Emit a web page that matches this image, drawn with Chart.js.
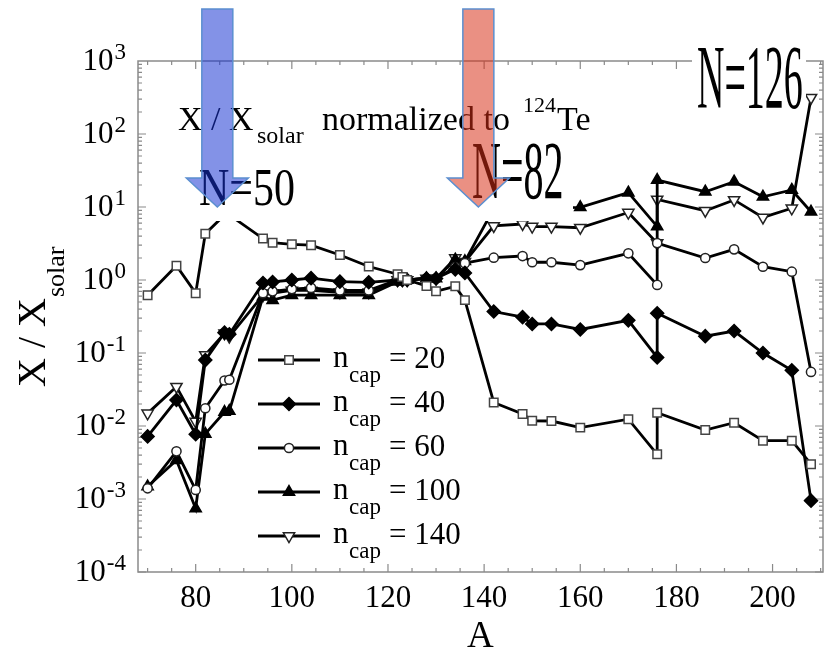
<!DOCTYPE html>
<html>
<head>
<meta charset="utf-8">
<script src="https://cdn.jsdelivr.net/npm/chart.js@4.4.1/dist/chart.umd.min.js"></script>
<style>
  html, body { margin: 0; padding: 0; background: #fff; }
  #wrap { width: 832px; height: 650px; }
</style>
</head>
<body>
<div id="wrap"><canvas id="c" width="832" height="650"></canvas></div>
<script>
// s-process nuclei (mass number A) and abundances normalised to 124Te
const massNumbers = [70, 76, 80, 82, 86, 87, 94, 96, 100, 104, 110, 116, 122, 123, 124, 128, 130, 134, 136, 142, 148, 150, 154, 160, 170, 176, 176, 186, 192, 198, 204, 208];

const ncap20  = [0.62, 1.57, 0.66, 4.3, 7.8, 7.8, 3.7, 3.24, 3.08, 3.0, 2.2, 1.53, 1.2, 1.1, 1.0, 0.83, 0.7, 0.82, 0.53, 0.021, 0.0146, 0.0118, 0.0117, 0.0095, 0.0124, 0.0041, 0.0152, 0.0088, 0.0111, 0.0063, 0.0063, 0.003];
const ncap40  = [0.0072, 0.0227, 0.0077, 0.080, 0.19, 0.18, 0.91, 0.94, 1.0, 1.06, 0.95, 0.93, 1.0, 1.0, 1.0, 1.05, 1.05, 1.4, 1.25, 0.37, 0.31, 0.25, 0.25, 0.21, 0.28, 0.087, 0.35, 0.17, 0.20, 0.10, 0.058, 0.00095];
const ncap60  = [0.0014, 0.0045, 0.00133, 0.0175, 0.042, 0.043, 0.66, 0.70, 0.75, 0.78, 0.72, 0.72, 1.0, 1.0, 1.0, 1.05, 1.05, 1.5, 1.7, 2.02, 2.13, 1.75, 1.75, 1.6, 2.32, 0.855, 3.2, 2.0, 2.63, 1.52, 1.3, 0.055];
const ncap100 = [0.00148, 0.0034, 0.00074, 0.0078, 0.0155, 0.016, 0.59, 0.53, 0.62, 0.62, 0.62, 0.62, 0.95, 1.0, 1.0, 1.05, 1.05, 1.9, 1.8, 9.5, 9.8, 9.6, 9.7, 9.9, 15.7, 5.4, 23.4, 16.2, 22.2, 13.8, 17.1, 8.6];
const ncap140 = [0.0149, 0.0346, 0.0115, 0.094, 0.186, 0.168, 0.62, 0.66, 0.72, 0.72, 0.68, 0.68, 1.0, 1.0, 1.0, 1.05, 1.05, 2.0, 1.78, 5.5, 5.85, 5.4, 5.4, 5.2, 8.4, 3.2, 12.7, 8.9, 12.5, 7.2, 9.6, 314];

const capLabels = ['20', '40', '60', '100', '140'];
const xTickLabels = [80, 100, 120, 140, 160, 180, 200];
const yDecades = [-4, -3, -2, -1, 0, 1, 2, 3];
const shellClosures = [
  { text: 'N=50',  a: 84.5,  tagged: true },
  { text: 'N=82',  a: 138.8, tagged: true },
  { text: 'N=126', a: 199,   tagged: false }
];

const SERIF = '"Liberation Serif", serif';
function serif(px) { return px + 'px ' + SERIF; }

function toPoints(ys) {
  return massNumbers.map((a, i) => ({ x: a, y: ys[i] }));
}

const seriesStyles = [
  { data: ncap20,  pointStyle: 'rect',     rotation: 0,   radius: 6,   fill: '#ffffff', edge: '#444444' },
  { data: ncap40,  pointStyle: 'rectRot',  rotation: 0,   radius: 6.5, fill: '#000000', edge: '#000000' },
  { data: ncap60,  pointStyle: 'circle',   rotation: 0,   radius: 4.6, fill: '#ffffff', edge: '#222222' },
  { data: ncap100, pointStyle: 'triangle', rotation: 0,   radius: 6.5, fill: '#000000', edge: '#000000' },
  { data: ncap140, pointStyle: 'triangle', rotation: 180, radius: 6.5, fill: '#ffffff', edge: '#222222' }
];

const datasets = seriesStyles.map((s, i) => ({
  label: 'n_cap = ' + capLabels[i],
  data: toPoints(s.data),
  borderColor: '#000000',
  borderWidth: 2.8,
  pointStyle: s.pointStyle,
  rotation: s.rotation,
  pointRadius: s.radius,
  pointBackgroundColor: s.fill,
  pointBorderColor: s.edge,
  pointBorderWidth: 1.5,
  tension: 0,
  fill: false
}));

// Frame with inward ticks on all four sides, tick labels and axis titles
const framePlugin = {
  id: 'frame',
  beforeDatasetsDraw(chart) {
    const { ctx, chartArea: ca, scales: { x, y } } = chart;
    const L = ca.left, R = ca.right - 1, T = ca.top, B = ca.bottom;
    ctx.save();
    ctx.strokeStyle = '#8a8a8a';
    ctx.lineWidth = 1.5;
    ctx.strokeRect(L, T, R - L, B - T);
    ctx.lineWidth = 1.2;
    ctx.beginPath();
    for (let a = 70; a <= 210; a += 5) {
      const px = x.getPixelForValue(a);
      const len = a % 20 === 0 ? 8 : 4;
      ctx.moveTo(px, B); ctx.lineTo(px, B - len);
      ctx.moveTo(px, T); ctx.lineTo(px, T + len);
    }
    for (let e = -4; e < 3; e++) {
      for (let m = 1; m <= 9; m++) {
        const py = y.getPixelForValue(m * Math.pow(10, e));
        const len = m === 1 ? 8 : 4;
        ctx.moveTo(L, py); ctx.lineTo(L + len, py);
        ctx.moveTo(R, py); ctx.lineTo(R - len, py);
      }
    }
    ctx.stroke();
    ctx.restore();
  },
  afterDraw(chart) {
    const { ctx, scales: { x, y } } = chart;
    ctx.save();
    ctx.fillStyle = '#000';
    ctx.textBaseline = 'alphabetic';
    // y tick labels: 10 with exponent
    yDecades.forEach(e => {
      const py = y.getPixelForValue(Math.pow(10, e));
      const exp = String(e);
      ctx.textAlign = 'right';
      ctx.font = serif(23);
      const ew = ctx.measureText(exp).width;
      ctx.fillText(exp, 126, py - 2);
      ctx.font = serif(31);
      ctx.fillText('10', 126 - ew - 1, py + 9);
    });
    // x tick labels
    ctx.textAlign = 'center';
    ctx.font = serif(31);
    xTickLabels.forEach(v => {
      ctx.fillText(String(v), x.getPixelForValue(v), 607);
    });
    // x title
    ctx.font = serif(37);
    ctx.fillText('A', x.getPixelForValue(139.2), 647);
    // y title (rotated)
    ctx.save();
    ctx.translate(45, 387);
    ctx.rotate(-Math.PI / 2);
    ctx.textAlign = 'left';
    ctx.font = serif(40);
    ctx.fillText('X / X', 0, 0);
    const w = ctx.measureText('X / X').width;
    ctx.font = serif(26);
    ctx.fillText('solar', w + 1, 19);
    ctx.restore();
    ctx.restore();
  }
};

// Legend with subscripted labels, drawn with the datasets' own markers
const legendPlugin = {
  id: 'capLegend',
  afterDatasetsDraw(chart) {
    const { ctx } = chart;
    ctx.save();
    seriesStyles.forEach((s, i) => {
      const rowY = 360 + i * 44;
      ctx.strokeStyle = '#000';
      ctx.lineWidth = 2.8;
      ctx.beginPath();
      ctx.moveTo(258, rowY); ctx.lineTo(320, rowY);
      ctx.stroke();
      ctx.fillStyle = s.fill;
      ctx.strokeStyle = s.edge;
      ctx.lineWidth = 1.5;
      Chart.helpers.drawPoint(ctx, { pointStyle: s.pointStyle, rotation: s.rotation, radius: s.radius, borderWidth: 1.5 }, 289, rowY);
      ctx.fillStyle = '#000';
      ctx.textAlign = 'left';
      ctx.font = serif(31);
      ctx.fillText('n', 333, rowY + 7);
      ctx.font = serif(23);
      ctx.fillText('cap', 349, rowY + 22);
      ctx.font = serif(31);
      ctx.fillText('= ' + capLabels[i], 389, rowY + 8);
    });
    ctx.restore();
  }
};

// Title, shell-closure labels on white boxes, and translucent arrows
const notesPlugin = {
  id: 'notes',
  afterDraw(chart) {
    const { ctx, scales: { x } } = chart;
    ctx.save();
    ctx.fillStyle = '#000';
    ctx.textAlign = 'left';
    ctx.textBaseline = 'alphabetic';

    // title inside the frame
    ctx.font = serif(34);
    ctx.fillText('X / X', 178, 130);
    ctx.font = serif(24);
    ctx.fillText('solar', 257, 143);
    ctx.font = serif(34);
    ctx.fillText('normalized to', 322, 130);
    ctx.font = serif(22);
    ctx.fillText('124', 523, 112);
    ctx.font = serif(34);
    ctx.fillText('Te', 557, 130);

    // shell-closure labels (condensed serif on white boxes)
    const boxes = [
      { x0: 193, x1: 302, y0: 158, y1: 221, tx: 199, ty: 205, size: 42, sy: 1.25 },
      { x0: 463, x1: 573, y0: 132, y1: 221, tx: 472, ty: 198, size: 40, sy: 2.05 },
      { x0: 692, x1: 806, y0: 38,  y1: 112, tx: 697, ty: 108, size: 38, sy: 2.42 }
    ];
    shellClosures.forEach((n, i) => {
      const b = boxes[i];
      ctx.fillStyle = '#fff';
      ctx.fillRect(b.x0, b.y0, b.x1 - b.x0, b.y1 - b.y0);
      ctx.fillStyle = '#000';
      ctx.save();
      ctx.translate(b.tx, b.ty);
      ctx.scale(1, b.sy);
      ctx.font = serif(b.size);
      ctx.fillText(n.text, 0, 0);
      ctx.restore();
    });

    // down arrows pointing at N=50 and N=82
    const arrowFills = ['rgba(20, 50, 210, 0.53)', 'rgba(215, 45, 20, 0.53)'];
    shellClosures.filter(n => n.tagged).forEach((n, i) => {
      const cx = x.getPixelForValue(n.a);
      const top = 9, headTop = 178, tip = 207, sh = 15.5, hh = 31;
      const path = () => {
        ctx.beginPath();
        ctx.moveTo(cx - sh, top);
        ctx.lineTo(cx + sh, top);
        ctx.lineTo(cx + sh, headTop);
        ctx.lineTo(cx + hh, headTop);
        ctx.lineTo(cx, tip);
        ctx.lineTo(cx - hh, headTop);
        ctx.lineTo(cx - sh, headTop);
        ctx.closePath();
      };
      ctx.save();
      ctx.shadowColor = 'rgba(0,0,0,0.22)';
      ctx.shadowBlur = 6;
      ctx.shadowOffsetX = 1;
      ctx.shadowOffsetY = 2;
      ctx.strokeStyle = 'rgba(255,255,255,0.01)';
      ctx.lineWidth = 2;
      path();
      ctx.stroke();
      ctx.restore();
      path();
      ctx.fillStyle = arrowFills[i];
      ctx.fill();
      ctx.strokeStyle = '#5b8fd0';
      ctx.lineWidth = 1.5;
      ctx.stroke();
    });
    ctx.restore();
  }
};

function build() {
  new Chart(document.getElementById('c'), {
    type: 'line',
    data: { datasets },
    options: {
      responsive: false,
      devicePixelRatio: 1,
      animation: false,
      layout: { padding: { left: 138, top: 61, right: 0, bottom: 78 } },
      plugins: { legend: { display: false }, tooltip: { enabled: false } },
      scales: {
        x: { type: 'linear', min: 68, max: 210.7, display: false },
        y: { type: 'logarithmic', min: 1e-4, max: 1e3, display: false }
      }
    },
    plugins: [framePlugin, legendPlugin, notesPlugin]
  });
}

build();
</script>
</body>
</html>
